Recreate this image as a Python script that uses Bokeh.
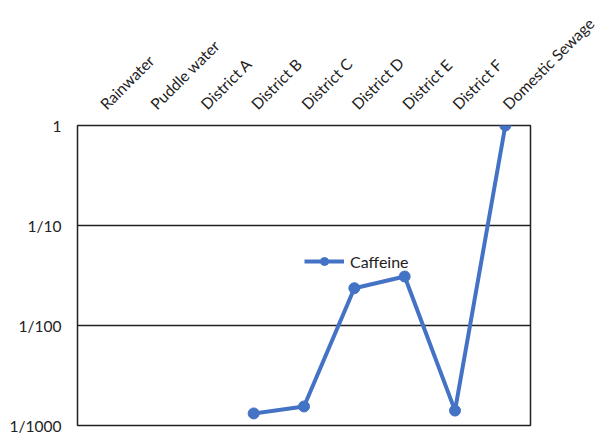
import math
from bokeh.plotting import figure
from bokeh.models import Range1d, FixedTicker, Legend, LegendItem
from bokeh.embed import file_html
from bokeh.resources import INLINE

categories = ["Rainwater", "Puddle water", "District A", "District B", "District C",
              "District D", "District E", "District F", "Domestic Sewage"]
caffeine_cats = ["District B", "District C", "District D", "District E", "District F", "Domestic Sewage"]
caffeine_vals = [0.00132, 0.00155, 0.0236, 0.0309, 0.00141, 1.0]
y_ticks = [0.001, 0.01, 0.1, 1]
y_tick_labels = {0.001: "1/1000", 0.01: "1/100", 0.1: "1/10", 1: "1"}

FONT = "Lato"
BLUE = "#4472C4"

p = figure(width=608, height=434, x_range=categories, y_axis_type="log",
           y_range=Range1d(0.001, 1), x_axis_location="above",
           output_backend="svg", toolbar_location=None,
           min_border_left=77, min_border_right=78, min_border_top=125, min_border_bottom=9)
p.background_fill_color = "white"
p.border_fill_color = "white"
p.outline_line_color = "#222222"
p.outline_line_width = 1.5

line = p.line(caffeine_cats, caffeine_vals, line_color=BLUE, line_width=4)
pts = p.scatter(caffeine_cats, caffeine_vals, size=11, fill_color=BLUE, line_color=BLUE)

# x axis on top
xa = p.xaxis[0]
xa.axis_line_color = None
xa.major_tick_line_color = None
xa.minor_tick_line_color = None
xa.major_label_orientation = math.pi / 4
xa.major_label_text_font = FONT
xa.major_label_text_font_size = "15.5px"
xa.major_label_text_color = "#222222"
xa.major_label_standoff = 13

# y axis
ya = p.yaxis[0]
ya.ticker = FixedTicker(ticks=y_ticks)
ya.major_label_overrides = y_tick_labels
ya.axis_line_color = None
ya.major_tick_line_color = None
ya.minor_tick_line_color = None
ya.major_label_text_font = FONT
ya.major_label_text_font_size = "15.5px"
ya.major_label_text_color = "#222222"
ya.major_label_standoff = 10

p.xgrid.grid_line_color = None
p.ygrid.ticker = FixedTicker(ticks=[0.01, 0.1])
p.ygrid.grid_line_color = "#222222"
p.ygrid.grid_line_width = 1.5
p.ygrid.minor_grid_line_color = None

legend = Legend(items=[LegendItem(label="Caffeine", renderers=[line, pts])],
                location=(227, 154), padding=0, margin=0,
                background_fill_alpha=0, border_line_color=None,
                label_text_font=FONT, label_text_font_size="16px",
                label_text_color="#222222", glyph_width=40, glyph_height=20,
                label_height=20, label_standoff=6)
p.add_layout(legend, "center")

open("out.html", "w").write(file_html(p, INLINE))
